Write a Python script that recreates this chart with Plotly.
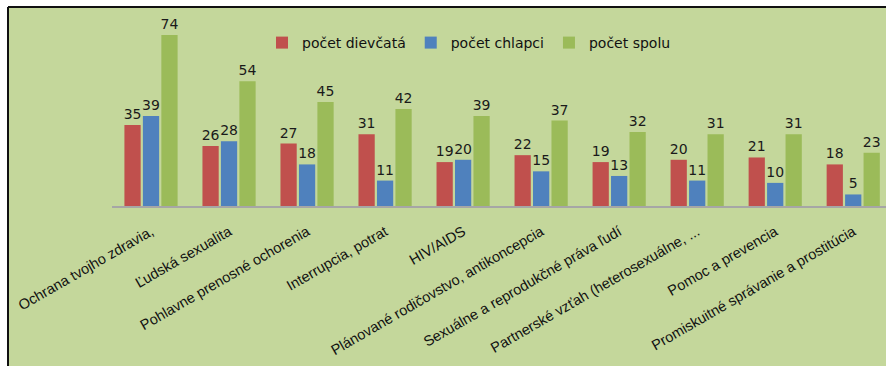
import plotly.graph_objects as go

categories = [
    "Ochrana tvojho zdravia,",
    "Ľudská sexualita",
    "Pohlavne prenosné ochorenia",
    "Interrupcia, potrat",
    "HIV/AIDS",
    "Plánované rodičovstvo, antikoncepcia",
    "Sexuálne a reprodukčné práva ľudí",
    "Partnerské vzťah (heterosexuálne, ...",
    "Pomoc a prevencia",
    "Promiskuitné správanie a prostitúcia",
]
dievcata = [35, 26, 27, 31, 19, 22, 19, 20, 21, 18]
chlapci = [39, 28, 18, 11, 20, 15, 13, 11, 10, 5]
spolu = [74, 54, 45, 42, 39, 37, 32, 31, 31, 23]

series = [
    ("počet dievčatá", dievcata, "#C0504D"),
    ("počet chlapci", chlapci, "#4F81BD"),
    ("počet spolu", spolu, "#9BBB59"),
]

BG = "#C4D79B"
fig = go.Figure()
for name, vals, col in series:
    fig.add_trace(go.Bar(
        x=categories, y=vals, name=name,
        marker=dict(color=col, line=dict(color=col, width=0)),
        text=vals, textposition="outside", cliponaxis=False,
        constraintext="none",
        textfont=dict(family="DejaVu Sans", size=14, color="#1a1a1a"),
    ))

W, H = 886, 366
L, R, T, B = 112, 0, 20, 160
pw, ph = W - L - R, H - T - B

fig.update_layout(
    width=W, height=H,
    margin=dict(l=L, r=R, t=T, b=B, pad=0),
    paper_bgcolor="white",
    plot_bgcolor="rgba(0,0,0,0)",
    barmode="group",
    bargap=0.29,
    bargroupgap=0.12,
    showlegend=True,
    legend=dict(
        orientation="h",
        x=(262 - L) / pw, y=1 - (43 - T) / ph,
        xanchor="left", yanchor="middle",
        font=dict(family="DejaVu Sans", size=14, color="#111"),
        bgcolor="rgba(0,0,0,0)",
        itemwidth=30,
        tracegroupgap=0,
    ),
    xaxis=dict(
        range=[-0.5, 9.42],
        showline=True, linecolor="#A6A6A6", linewidth=1.5,
        tickangle=-30,
        ticks="outside", ticklen=10, tickcolor="rgba(0,0,0,0)",
        tickfont=dict(family="Liberation Sans", size=14.5, color="#111"),
        showgrid=False,
    ),
    yaxis=dict(
        range=[0, (206 - T) / ((206 - 35) / 74)],
        visible=False, showgrid=False,
    ),
    shapes=[
        dict(type="rect", xref="paper", yref="paper",
             x0=(8 - L) / pw, x1=1.05, y0=-B / ph - 0.1, y1=1 + (T - 7) / ph,
             fillcolor=BG, line=dict(width=0), layer="below"),
        dict(type="line", xref="paper", yref="paper",
             x0=(8 - L) / pw, x1=(8 - L) / pw, y0=-B / ph - 0.1, y1=1 + (T - 7) / ph,
             line=dict(color="#111", width=2), layer="below"),
        dict(type="line", xref="paper", yref="paper",
             x0=(8 - L) / pw, x1=1.05, y0=1 + (T - 7) / ph, y1=1 + (T - 7) / ph,
             line=dict(color="#111", width=2), layer="below"),
    ],
)

fig.write_html("out.html")
